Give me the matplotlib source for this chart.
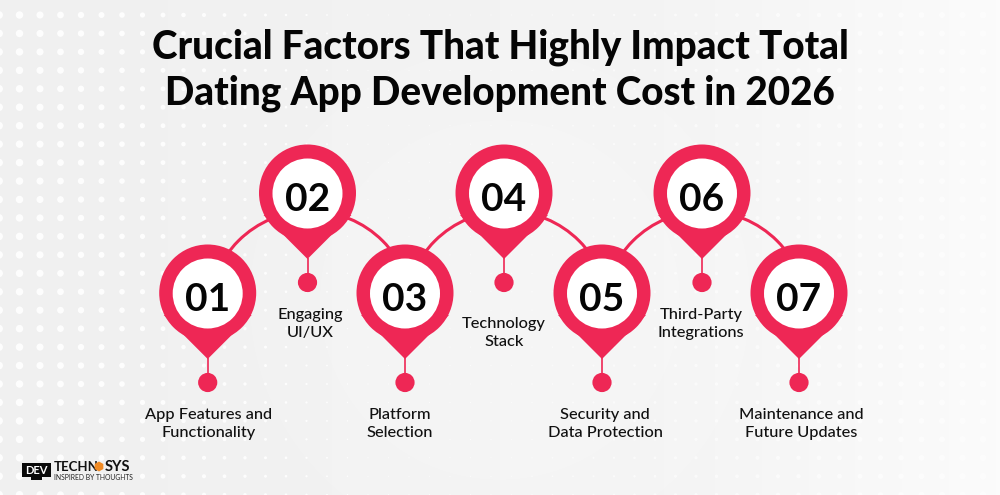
import numpy as np
import matplotlib
matplotlib.use("Agg")
import matplotlib.pyplot as plt
from matplotlib.colors import LinearSegmentedColormap
from matplotlib.patches import Circle, Polygon, Arc, Rectangle, RegularPolygon

title_lines = ["Crucial Factors That Highly Impact Total",
               "Dating App Development Cost in 2026"]
numbers = ["01", "02", "03", "04", "05", "06", "07"]
factors = ["App Features and\nFunctionality", "Engaging\nUI/UX", "Platform\nSelection",
           "Technology\nStack", "Security and\nData Protection",
           "Third-Party\nIntegrations", "Maintenance and\nFuture Updates"]
pin_x = [207.7, 307.5, 405, 504, 602, 702, 799]
pin_y = [293, 193, 293, 193, 293, 193, 293]
label_x = [208.5, 310, 400, 504, 605, 701, 801.5]
label_y = [424, 324, 424, 333, 424, 324, 424]

RED = "#ee2755"

fig = plt.figure(figsize=(10, 4.95), dpi=100, facecolor="#f2f2f2")
ax = fig.add_axes([0, 0, 1, 1])
ax.set_xlim(0, 1000); ax.set_ylim(495, 0); ax.axis("off")

# background: light-grey sheet that brightens toward the right edge
cmap = LinearSegmentedColormap.from_list("bg", ["#f0f0f0", "#f2f2f2", "#f4f4f4", "#fbfbfb"])
ramp = np.linspace(0, 1, 256)[None, :]
ax.imshow(ramp, extent=(0, 1000, 495, 0), aspect="auto", cmap=cmap, zorder=0)
ax.add_patch(Circle((500, 300), 250, fc="white", alpha=0.13, ec="none", zorder=0.1))
ax.add_patch(Circle((500, 300), 180, fc="white", alpha=0.10, ec="none", zorder=0.2))

# dot grid: large at the edges, vanishing toward the middle
for gx in np.arange(-1, 1010, 20.5):
    for gy in np.arange(15, 495, 18.45):
        r = max(3.9 - gx * 0.0092, 0.5) if gx < 500 else max(0.5 + (gx - 500) * 0.0055, 0.5)
        ax.add_patch(Circle((gx, gy), r, fc="white", ec="none", alpha=0.9 if gx < 500 else 0.6, zorder=0.5))

# title
for line, y in zip(title_lines, (58, 104.5)):
    ax.text(500, y, line, ha="center", va="baseline", fontsize=27.85, fontweight=900,
            family="Lato", color="#050505", zorder=5)

# connecting arcs behind the even pins
for i in (1, 3, 5):
    ax.add_patch(Arc((pin_x[i] + 3, 313), 204, 204, theta1=180, theta2=360, lw=2.2, ec=RED, zorder=1))

R = 48.5
for i, (x, y) in enumerate(zip(pin_x, pin_y)):
    tip = y + 66
    ax.add_patch(Polygon([(x - 44, y + 22), (x, tip), (x + 44, y + 22)], fc=RED, ec="none", zorder=2))
    ax.add_patch(Circle((x, y), R, fc=RED, ec="none", zorder=2))
    ax.add_patch(Circle((x, y + 0.5), 35, fc="white", ec="none", zorder=3))
    ax.plot([x, x], [tip - 1, tip + 16], color=RED, lw=1.2, zorder=2, solid_capstyle="butt")
    ax.add_patch(Circle((x, tip + 23.5), 9.6, fc=RED, ec="none", zorder=2))
    ax.text(x, y + 3.5, numbers[i], ha="center", va="center_baseline", fontsize=28, fontweight="bold",
            family="Lato", color="#050505", zorder=4)
    ax.text(label_x[i], label_y[i], factors[i], ha="center", va="center", fontsize=11.75,
            family="Lato", fontweight="medium", color="#111111", linespacing=1.33, zorder=4)

# logo
ax.add_patch(Rectangle((22, 463), 29, 14, fc="#0a0a0a", ec="none", zorder=4))
ax.add_patch(Rectangle((31, 477), 11, 3, fc="#0a0a0a", ec="none", zorder=4))
ax.text(36.5, 470, "DEV", ha="center", va="center", fontsize=8, fontweight="bold", family="Lato",
        color="white", zorder=5)
ax.text(54, 471, "TECHN", ha="left", va="baseline", fontsize=9.5, fontweight="bold", family="Lato",
        color="#111111", zorder=5)
ax.add_patch(RegularPolygon((99, 466.5), 6, radius=5, fc="#f08a24", ec="none", zorder=5))
ax.text(104.5, 471, "SYS", ha="left", va="baseline", fontsize=10.5, fontweight="bold", family="Lato",
        color="#111111", zorder=5)
ax.text(54, 477, "INSPIRED BY THOUGHTS", ha="left", va="center", fontsize=4.9, family="Lato",
        color="#222222", zorder=5)

fig.savefig("out.png", dpi=100)
